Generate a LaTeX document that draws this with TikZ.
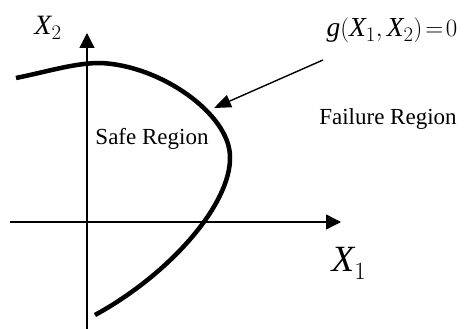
\documentclass[tikz,border=0pt]{standalone}
\usepackage{fontspec}
\setmainfont{Liberation Serif}
\usetikzlibrary{arrows.meta,positioning,calc}

\begin{document}
\begin{tikzpicture}[x=1pt,y=1pt,
    axis/.style={line width=1.4pt,-{Triangle[length=15pt,width=15pt]}},
    limitcurve/.style={line width=4.5pt},
    pointer/.style={line width=1.4pt,-{Triangle[length=17pt,width=13pt]}},
    lbl/.style={inner sep=0pt,anchor=base}]
    \useasboundingbox (0,0) rectangle (471,329);

    % 坐标轴
    \coordinate (W1) at (10,107);
    \coordinate (E1) at (341,107);
    \coordinate (S2) at (87,0);
    \coordinate (N2) at (87,296);
    \draw[axis] (W1) -- (E1);
    \draw[axis] (S2) -- (N2);

    % 极限状态曲线
    \draw[limitcurve] (16,251) .. controls (50,258) and (75,266) .. (100,266)
        .. controls (160,264) and (230,215) .. (230,172)
        .. controls (231,125) and (170,55) .. (95,14);

    % 标注箭头
    \coordinate (tail) at (323,269);
    \coordinate (head) at (214,221);
    \draw[pointer] (tail) -- (head);

    % 文字标注
    \node[lbl,font=\fontsize{28}{30}\selectfont] (x2) at (48,294) {$\mathit{X}_2$};
    \node[lbl,font=\fontsize{37}{40}\selectfont] (x1) at (349,57) {$\mathit{X}_1$};
    \node[lbl,font=\fontsize{27.5}{30}\selectfont] (g) at (392,292)
        {$\thickmuskip=2mu \mathit{g}(\mathit{X}_1,\mathit{X}_2)=0$};
    \node[lbl,font=\fontsize{23}{26}\selectfont] (fail) at (388,204) {Failure Region};
    \node[lbl,font=\fontsize{23}{26}\selectfont] (safe) at (152,184) {Safe Region};
\end{tikzpicture}
\end{document}
